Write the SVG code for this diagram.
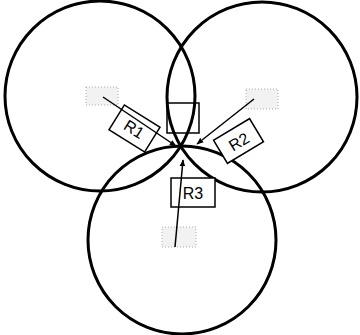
<svg xmlns="http://www.w3.org/2000/svg" width="360" height="335" viewBox="0 0 360 335">
<style>
.circle{fill:none;stroke:#000;stroke-width:3}
.box{fill:#fff;stroke:#000;stroke-width:1.5}
.lbl{font-family:"Liberation Sans",Arial,sans-serif;font-size:16px;fill:#000;text-anchor:middle;dominant-baseline:central}
.ghost{fill:#f2f2f2;stroke:#aaa;stroke-width:1;stroke-dasharray:1 2}
.conn{stroke:#000;stroke-width:1.5;fill:none}
</style>
<defs>
<marker id="ah" viewBox="0 0 10 10" refX="9" refY="5" markerWidth="7" markerHeight="7" orient="auto" markerUnits="userSpaceOnUse">
<path d="M0,1 L10,5 L0,9 Z" fill="#000"/>
</marker>
</defs>
<g id="circles">
<circle id="c1" class="circle" cx="100" cy="96" r="95"/>
<circle id="c2" class="circle" cx="262" cy="97" r="95"/>
<circle id="c3" class="circle" cx="182" cy="240" r="94"/>
</g>
<g id="center-box">
<rect class="box" style="fill:none" x="167" y="103" width="32" height="30"/>
</g>
<g id="ghost-labels">
<rect class="ghost" x="86" y="87" width="32" height="18"/>
<rect class="ghost" x="246" y="89" width="32" height="20"/>
<rect class="ghost" x="162" y="227" width="34" height="20"/>
</g>
<g id="r1">
<g transform="translate(134.5,128.5) rotate(32)">
<rect class="box" x="-21" y="-14.5" width="42" height="29"/>
<text class="lbl" x="0" y="1">R1</text>
</g>
</g>
<g id="r2">
<g transform="translate(238.5,141) rotate(-31)">
<rect class="box" x="-21" y="-13.5" width="42" height="27"/>
<text class="lbl" x="0" y="1">R2</text>
</g>
</g>
<g id="r3">
<rect class="box" x="171" y="178" width="44" height="29"/>
<text class="lbl" x="193" y="193">R3</text>
</g>
<g id="connectors">
<line class="conn" x1="103" y1="97" x2="176" y2="146" marker-end="url(#ah)"/>
<line class="conn" x1="254" y1="99" x2="197" y2="144" marker-end="url(#ah)"/>
<line class="conn" x1="175" y1="247" x2="183" y2="160" marker-end="url(#ah)"/>
</g>
</svg>
